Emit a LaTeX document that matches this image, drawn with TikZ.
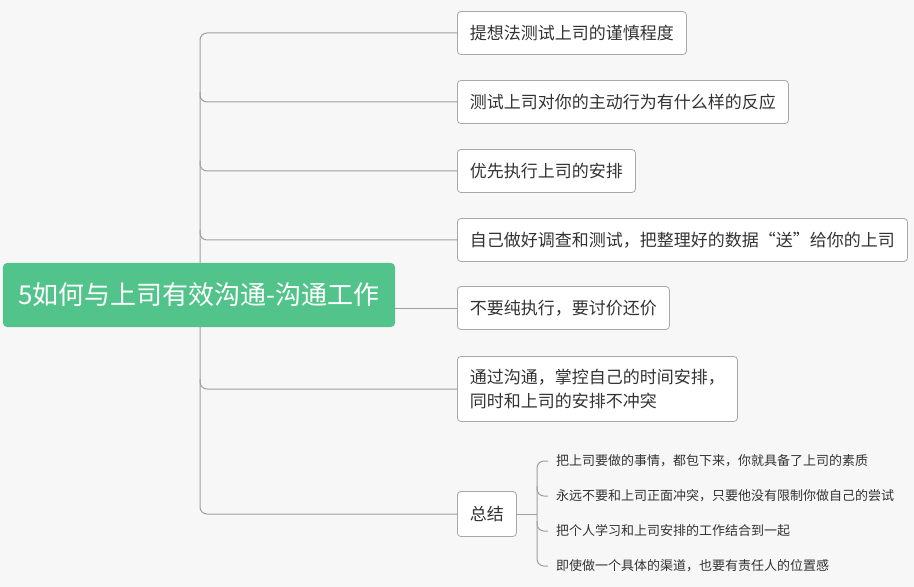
\documentclass[tikz,border=0pt]{standalone}
\usepackage{fontspec}
\setmainfont{Noto Sans CJK SC}
\definecolor{bgc}{HTML}{F7F7F7}
\definecolor{rootc}{HTML}{52C48B}
\definecolor{boxc}{HTML}{A8A8A8}
\definecolor{linec}{HTML}{A0A0A0}
\definecolor{txt}{HTML}{333333}
\tikzset{
  childbox/.style={draw=boxc, fill=white, rounded corners=3.5bp, line width=0.8bp, anchor=west,
    inner xsep=12.5bp, inner ysep=0pt, minimum height=43bp, text=txt,
    font=\fontsize{17bp}{24bp}\selectfont},
  leaf/.style={anchor=west, inner xsep=8bp, inner ysep=0pt, text=txt,
    font=\fontsize{13bp}{16bp}\selectfont},
  rootbox/.style={fill=rootc, rounded corners=4bp, minimum width=392bp, minimum height=64bp,
    inner sep=0pt, text=white, font=\fontsize{26bp}{30bp}\selectfont},
  conn/.style={draw=linec, line width=1bp, rounded corners=7bp},
}
\begin{document}
\begin{tikzpicture}[x=1bp,y=-1bp]
\fill[bgc] (0,0) rectangle (914,587);
\useasboundingbox (0,0) rectangle (914,587);

% children
\node[childbox] (c1) at (457,33) {提想法测试上司的谨慎程度};
\node[childbox] (c2) at (457,102) {测试上司对你的主动行为有什么样的反应};
\node[childbox] (c3) at (457,171) {优先执行上司的安排};
\node[childbox] (c4) at (457,240) {自己做好调查和测试，把整理好的数据“送”给你的上司};
\node[childbox] (c5) at (457,308) {不要纯执行，要讨价还价};
\node[childbox, align=left, minimum height=65bp] (c6) at (457,389) {通过沟通，掌控自己的时间安排，\\同时和上司的安排不冲突};
\node[childbox, minimum height=45bp] (c7) at (457,514) {总结};

% trunk
\coordinate (tt) at (200,33);
\coordinate (tb) at (200,514);
\draw[conn] (c1.west) -- (tt) -- (tb) -- (c7.west);
\draw[conn] (200,92) -- (200,102) -- (c2.west);
\draw[conn] (200,161) -- (200,171) -- (c3.west);
\draw[conn] (200,230) -- (200,240) -- (c4.west);
\draw[conn] (200,379) -- (200,389) -- (c6.west);

% root
\node[rootbox] (root) at (199,295) {5如何与上司有效沟通-沟通工作};
\draw[conn] (root.east |- c5.west) -- (c5.west);

% leaves
\node[leaf] (l1) at (548,461) {把上司要做的事情，都包下来，你就具备了上司的素质};
\node[leaf] (l2) at (548,496) {永远不要和上司正面冲突，只要他没有限制你做自己的尝试};
\node[leaf] (l3) at (548,531) {把个人学习和上司安排的工作结合到一起};
\node[leaf] (l4) at (548,566) {即使做一个具体的渠道，也要有责任人的位置感};

\coordinate (bt) at (537,461);
\coordinate (bb) at (537,566);
\draw[conn] (c7.east) -- (537,514);
\draw[conn] (l1.west) -- (bt) -- (bb) -- (l4.west);
\draw[conn] (537,486) -- (537,496) -- (l2.west);
\draw[conn] (537,521) -- (537,531) -- (l3.west);
\end{tikzpicture}
\end{document}
